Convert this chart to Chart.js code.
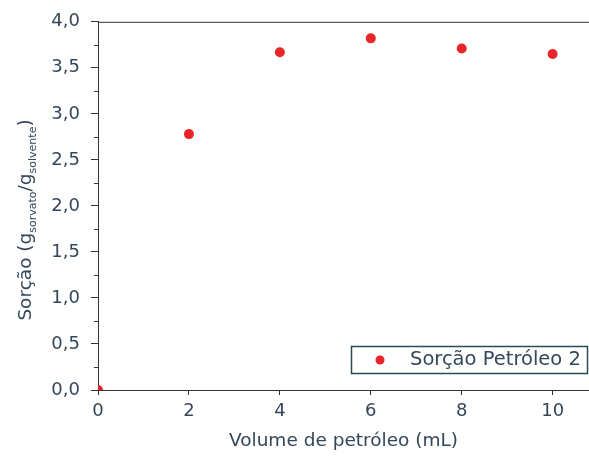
<!DOCTYPE html>
<html>
<head>
<meta charset="utf-8">
<script src="https://cdn.jsdelivr.net/npm/chart.js@4/dist/chart.umd.min.js"></script>
<style>
  html, body { margin: 0; padding: 0; background: #fff; }
  #wrap { width: 589px; height: 465px; }
</style>
</head>
<body>
<div id="wrap"><canvas id="chart" width="589" height="465"></canvas></div>
<script>
const volumes = [0, 2, 4, 6, 8, 10];
const sorcao = [0.0, 2.78, 3.67, 3.82, 3.71, 3.65];
const xTicks = [0, 2, 4, 6, 8, 10];
const yTicks = [0, 0.5, 1, 1.5, 2, 2.5, 3, 3.5, 4];
const seriesLabel = 'Sorção Petróleo 2';

const textColor = '#34475a';
const axisColor = '#333';
const font = '"DejaVu Sans", Arial, sans-serif';

const decor = {
    id: 'decor',
    afterDraw(chart) {
        const c = chart.ctx;
        const a = chart.chartArea;
        const y = chart.scales.y;
        c.save();
        // top frame line
        c.strokeStyle = axisColor;
        c.lineWidth = 1;
        c.beginPath();
        c.moveTo(a.left, a.top + 0.5);
        c.lineTo(a.right, a.top + 0.5);
        c.stroke();
        // minor ticks on y
        for (let i = 0; i < yTicks.length - 1; i++) {
            const py = Math.round(y.getPixelForValue((yTicks[i] + yTicks[i + 1]) / 2)) + 0.5;
            c.beginPath();
            c.moveTo(a.left - 4, py);
            c.lineTo(a.left, py);
            c.stroke();
        }
        // y title with subscripts
        c.translate(31, 220);
        c.rotate(-Math.PI / 2);
        c.fillStyle = textColor;
        c.textBaseline = 'alphabetic';
        const parts = [
            ['Sorção (g', 18.5, 0],
            ['sorvato', 11, 5],
            ['/g', 18.5, 0],
            ['solvente', 11, 5],
            [')', 18.5, 0]
        ];
        let w = 0;
        parts.forEach(p => { c.font = p[1] + 'px ' + font; w += c.measureText(p[0]).width; });
        let px = -w / 2;
        parts.forEach(p => {
            c.font = p[1] + 'px ' + font;
            c.fillText(p[0], px, p[2]);
            px += c.measureText(p[0]).width;
        });
        c.restore();
        // legend box
        c.save();
        c.strokeStyle = '#2c4a5a';
        c.lineWidth = 1.5;
        c.strokeRect(351.5, 346.5, 236, 27);
        c.fillStyle = '#e8262a';
        c.beginPath();
        c.arc(380, 360, 4.5, 0, Math.PI * 2);
        c.fill();
        c.fillStyle = textColor;
        c.font = '19.5px ' + font;
        c.textBaseline = 'middle';
        c.fillText(chart.data.datasets[0].label, 410, 360);
        c.restore();
    }
};

new Chart(document.getElementById('chart'), {
    type: 'scatter',
    data: {
        datasets: [{
            label: seriesLabel,
            data: volumes.map((v, i) => ({ x: v, y: sorcao[i] })),
            backgroundColor: '#e8262a',
            borderColor: '#e8262a',
            pointRadius: 5,
            pointBorderWidth: 0
        }]
    },
    options: {
        responsive: false,
        animation: false,
        layout: { autoPadding: false, padding: { top: 20, right: 0, left: 0, bottom: 0 } },
        plugins: { legend: { display: false }, tooltip: { enabled: false } },
        scales: {
            x: {
                type: 'linear',
                min: 0,
                max: 10.8,
                afterBuildTicks: s => { s.ticks = xTicks.map(v => ({ value: v })); },
                afterFit: s => { s.height = 75; },
                grid: { drawOnChartArea: false, tickLength: 5, color: axisColor },
                border: { color: axisColor, width: 1 },
                ticks: { color: textColor, font: { family: font, size: 18 }, padding: 6 },
                title: {
                    display: true,
                    text: 'Volume de petróleo (mL)',
                    color: textColor,
                    font: { family: font, size: 18.5 },
                    padding: { top: 0, bottom: 13 }
                }
            },
            y: {
                min: 0,
                max: 4,
                afterBuildTicks: s => { s.ticks = yTicks.map(v => ({ value: v })); },
                afterFit: s => { s.width = 98; },
                grid: { drawOnChartArea: false, tickLength: 7, color: axisColor },
                border: { color: axisColor, width: 1 },
                ticks: {
                    color: textColor,
                    font: { family: font, size: 18 },
                    padding: 11,
                    callback: v => v.toFixed(1).replace('.', ',')
                }
            }
        }
    },
    plugins: [decor]
});
</script>
</body>
</html>
